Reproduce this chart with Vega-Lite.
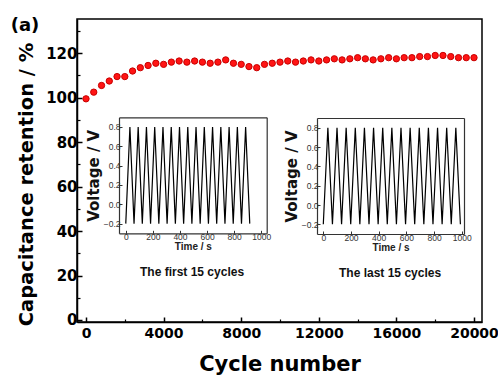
{
  "$schema": "https://vega.github.io/schema/vega-lite/v6.json",
  "width": 405,
  "height": 303,
  "autosize": {"type": "none"},
  "padding": {"left": 77, "top": 19, "right": 16, "bottom": 55},
  "background": "white",
  "config": {"view": {"stroke": "black", "strokeWidth": 1.5}, "font": "DejaVu Sans"},
  "datasets": {
    "retention": [
      {"cycle": 0, "retention": 99.5}, {"cycle": 400, "retention": 102.5}, {"cycle": 800, "retention": 105.5},
      {"cycle": 1200, "retention": 107.5}, {"cycle": 1600, "retention": 109.5}, {"cycle": 2000, "retention": 109.5},
      {"cycle": 2400, "retention": 112}, {"cycle": 2800, "retention": 113.5}, {"cycle": 3200, "retention": 114.5},
      {"cycle": 3600, "retention": 115.5}, {"cycle": 4000, "retention": 115}, {"cycle": 4400, "retention": 116},
      {"cycle": 4800, "retention": 116.5}, {"cycle": 5200, "retention": 116}, {"cycle": 5600, "retention": 116.5},
      {"cycle": 6000, "retention": 116}, {"cycle": 6400, "retention": 115.5}, {"cycle": 6800, "retention": 116},
      {"cycle": 7200, "retention": 117}, {"cycle": 7600, "retention": 115.5}, {"cycle": 8000, "retention": 115},
      {"cycle": 8400, "retention": 114}, {"cycle": 8800, "retention": 113.5}, {"cycle": 9200, "retention": 115},
      {"cycle": 9600, "retention": 115.5}, {"cycle": 10000, "retention": 116}, {"cycle": 10400, "retention": 116.5},
      {"cycle": 10800, "retention": 116}, {"cycle": 11200, "retention": 116.5}, {"cycle": 11600, "retention": 117},
      {"cycle": 12000, "retention": 116.5}, {"cycle": 12400, "retention": 117}, {"cycle": 12800, "retention": 117.5},
      {"cycle": 13200, "retention": 117}, {"cycle": 13600, "retention": 117.5}, {"cycle": 14000, "retention": 118},
      {"cycle": 14400, "retention": 117.5}, {"cycle": 14800, "retention": 117}, {"cycle": 15200, "retention": 117.5},
      {"cycle": 15600, "retention": 118}, {"cycle": 16000, "retention": 117.5}, {"cycle": 16400, "retention": 118},
      {"cycle": 16800, "retention": 118}, {"cycle": 17200, "retention": 118.5}, {"cycle": 17600, "retention": 118.5},
      {"cycle": 18000, "retention": 119}, {"cycle": 18400, "retention": 119}, {"cycle": 18800, "retention": 118.5},
      {"cycle": 19200, "retention": 118}, {"cycle": 19600, "retention": 118}, {"cycle": 20000, "retention": 118}
    ],
    "first": [
      {"time": 0, "voltage": -0.2}, {"time": 30.5, "voltage": 0.8}, {"time": 61, "voltage": -0.2},
      {"time": 91.5, "voltage": 0.8}, {"time": 122, "voltage": -0.2}, {"time": 152.5, "voltage": 0.8},
      {"time": 183, "voltage": -0.2}, {"time": 213.5, "voltage": 0.8}, {"time": 244, "voltage": -0.2},
      {"time": 274.5, "voltage": 0.8}, {"time": 305, "voltage": -0.2}, {"time": 335.5, "voltage": 0.8},
      {"time": 366, "voltage": -0.2}, {"time": 396.5, "voltage": 0.8}, {"time": 427, "voltage": -0.2},
      {"time": 457.5, "voltage": 0.8}, {"time": 488, "voltage": -0.2}, {"time": 518.5, "voltage": 0.8},
      {"time": 549, "voltage": -0.2}, {"time": 579.5, "voltage": 0.8}, {"time": 610, "voltage": -0.2},
      {"time": 640.5, "voltage": 0.8}, {"time": 671, "voltage": -0.2}, {"time": 701.5, "voltage": 0.8},
      {"time": 732, "voltage": -0.2}, {"time": 762.5, "voltage": 0.8}, {"time": 793, "voltage": -0.2},
      {"time": 823.5, "voltage": 0.8}, {"time": 854, "voltage": -0.2}, {"time": 884.5, "voltage": 0.8},
      {"time": 915, "voltage": -0.2}
    ],
    "last": [
      {"time": 0, "voltage": -0.2}, {"time": 33, "voltage": 0.8}, {"time": 66, "voltage": -0.2},
      {"time": 99, "voltage": 0.8}, {"time": 132, "voltage": -0.2}, {"time": 165, "voltage": 0.8},
      {"time": 198, "voltage": -0.2}, {"time": 231, "voltage": 0.8}, {"time": 264, "voltage": -0.2},
      {"time": 297, "voltage": 0.8}, {"time": 330, "voltage": -0.2}, {"time": 363, "voltage": 0.8},
      {"time": 396, "voltage": -0.2}, {"time": 429, "voltage": 0.8}, {"time": 462, "voltage": -0.2},
      {"time": 495, "voltage": 0.8}, {"time": 528, "voltage": -0.2}, {"time": 561, "voltage": 0.8},
      {"time": 594, "voltage": -0.2}, {"time": 627, "voltage": 0.8}, {"time": 660, "voltage": -0.2},
      {"time": 693, "voltage": 0.8}, {"time": 726, "voltage": -0.2}, {"time": 759, "voltage": 0.8},
      {"time": 792, "voltage": -0.2}, {"time": 825, "voltage": 0.8}, {"time": 858, "voltage": -0.2},
      {"time": 891, "voltage": 0.8}, {"time": 924, "voltage": -0.2}, {"time": 957, "voltage": 0.8},
      {"time": 990, "voltage": -0.2}
    ]
  },
  "layer": [
    {
      "layer": [
        {
          "data": {"name": "retention"},
          "mark": {"type": "point", "filled": true, "shape": "circle", "size": 40, "fill": "#ff1414", "stroke": "#c80000", "strokeWidth": 1, "opacity": 1},
          "encoding": {
            "x": {"field": "cycle", "type": "quantitative",
              "scale": {"domain": [-464, 20412], "nice": false, "zero": false},
              "axis": {"orient": "bottom", "values": [0, 4000, 8000, 12000, 16000, 20000], "format": "d", "grid": false,
                "tickSize": -5, "tickWidth": 1.5, "tickColor": "black", "domainColor": "black", "domainWidth": 1.5,
                "labelFont": "DejaVu Sans", "labelFontWeight": "bold", "labelFontSize": 14, "labelColor": "black",
                "labelPadding": 9, "labelFlush": false, "labelOverlap": false,
                "title": "Cycle number", "titleFont": "DejaVu Sans", "titleFontSize": 21, "titleFontWeight": "bold",
                "titleColor": "black", "titlePadding": 13}},
            "y": {"field": "retention", "type": "quantitative",
              "scale": {"domain": [-0.9, 135.4], "nice": false, "zero": false},
              "axis": {"orient": "left", "values": [0, 20, 40, 60, 80, 100, 120], "grid": false,
                "tickSize": -5, "tickWidth": 1.5, "tickColor": "black", "domainColor": "black", "domainWidth": 1.5,
                "labelFont": "DejaVu Sans", "labelFontWeight": "bold", "labelFontSize": 15, "labelColor": "black",
                "labelPadding": 5, "labelFlush": false, "labelOverlap": false,
                "title": "Capacitance retention / %", "titleFont": "DejaVu Sans", "titleFontSize": 19.5, "titleFontWeight": "bold",
                "titleColor": "black", "titlePadding": 9, "titleY": 165}}
          }
        },
        {
          "data": {"name": "retention"},
          "mark": {"type": "point", "opacity": 0},
          "encoding": {
            "x": {"field": "cycle", "type": "quantitative",
              "scale": {"domain": [-464, 20412], "nice": false, "zero": false},
              "axis": {"orient": "bottom", "values": [2000, 6000, 10000, 14000, 18000], "grid": false, "labels": false, "domain": false,
                "tickSize": -3, "tickWidth": 1.2, "tickColor": "black", "title": null}},
            "y": {"field": "retention", "type": "quantitative",
              "scale": {"domain": [-0.9, 135.4], "nice": false, "zero": false},
              "axis": {"orient": "left", "values": [10, 30, 50, 70, 90, 110, 130], "grid": false, "labels": false, "domain": false,
                "tickSize": -3, "tickWidth": 1.2, "tickColor": "black", "title": null}}
          }
        },
        {
          "data": {"values": [{"label": "(a)"}]},
          "mark": {"type": "text", "font": "DejaVu Sans", "fontWeight": "bold", "fontSize": 18, "color": "black", "align": "center", "baseline": "middle"},
          "encoding": {
            "text": {"field": "label"},
            "x": {"datum": -3144, "type": "quantitative", "scale": {"domain": [-464, 20412], "nice": false, "zero": false}, "axis": null},
            "y": {"datum": 132.2, "type": "quantitative", "scale": {"domain": [-0.9, 135.4], "nice": false, "zero": false}, "axis": null}
          }
        }
      ],
      "resolve": {"axis": {"x": "independent", "y": "independent"}}
    },
    {
      "layer": [
        {
          "data": {"name": "first"},
          "mark": {"type": "line", "color": "black", "strokeWidth": 1.2},
          "encoding": {
            "x": {"field": "time", "type": "quantitative",
              "scale": {"domain": [-50, 1040], "range": [42, 189.7], "nice": false, "zero": false},
              "axis": {"orient": "bottom", "offset": -88.7, "values": [0, 200, 400, 600, 800, 1000], "format": "d", "grid": false,
                "tickSize": -3, "tickColor": "#333", "domainColor": "#333", "domainWidth": 1.2,
                "labelFont": "Liberation Sans", "labelFontSize": 8.5, "labelColor": "#333", "labelPadding": 2,
                "labelFlush": false, "labelOverlap": false,
                "title": "Time / s", "titleFont": "Liberation Sans", "titleFontSize": 10, "titleFontWeight": "bold",
                "titleColor": "#222", "titlePadding": 1}},
            "y": {"field": "voltage", "type": "quantitative",
              "scale": {"domain": [-0.3, 0.9], "range": [214.3, 98.3], "nice": false, "zero": false},
              "axis": {"orient": "left", "offset": -42, "values": [-0.2, 0, 0.2, 0.4, 0.6, 0.8], "format": ".1f", "grid": false,
                "tickSize": -3, "tickColor": "#333", "domainColor": "#333", "domainWidth": 1.2,
                "labelFont": "Liberation Sans", "labelFontSize": 8.5, "labelColor": "#333", "labelPadding": 2,
                "labelFlush": false, "labelOverlap": false,
                "title": "Voltage / V", "titleFont": "DejaVu Sans", "titleFontSize": 15, "titleFontWeight": "bold",
                "titleColor": "#111", "titlePadding": 2}}
          }
        },
        {
          "data": {"name": "first"},
          "mark": {"type": "line", "strokeOpacity": 0},
          "encoding": {
            "x": {"field": "time", "type": "quantitative",
              "scale": {"domain": [-50, 1040], "range": [42, 189.7], "nice": false, "zero": false},
              "axis": {"orient": "top", "offset": -98.3, "ticks": false, "labels": false, "grid": false, "title": null,
                "domainColor": "#333", "domainWidth": 1.2}},
            "y": {"field": "voltage", "type": "quantitative",
              "scale": {"domain": [-0.3, 0.9], "range": [214.3, 98.3], "nice": false, "zero": false},
              "axis": {"orient": "right", "offset": -215.3, "ticks": false, "labels": false, "grid": false, "title": null,
                "domainColor": "#333", "domainWidth": 1.2}}
          }
        },
        {
          "data": {"values": [{"label": "The first 15 cycles"}]},
          "mark": {"type": "text", "font": "Liberation Sans", "fontWeight": "bold", "fontSize": 12, "color": "#111", "align": "center", "baseline": "middle"},
          "encoding": {
            "text": {"field": "label"},
            "x": {"datum": 489, "type": "quantitative", "axis": null},
            "y": {"datum": -0.7, "type": "quantitative", "axis": null}
          }
        }
      ],
      "resolve": {"axis": {"x": "independent", "y": "independent"}}
    },
    {
      "layer": [
        {
          "data": {"name": "last"},
          "mark": {"type": "line", "color": "black", "strokeWidth": 1.2},
          "encoding": {
            "x": {"field": "time", "type": "quantitative",
              "scale": {"domain": [-45.5, 1016], "range": [240, 387], "nice": false, "zero": false},
              "axis": {"orient": "bottom", "offset": -88, "values": [0, 200, 400, 600, 800, 1000], "format": "d", "grid": false,
                "tickSize": -3, "tickColor": "#333", "domainColor": "#333", "domainWidth": 1.2,
                "labelFont": "Liberation Sans", "labelFontSize": 8.5, "labelColor": "#333", "labelPadding": 2,
                "labelFlush": false, "labelOverlap": false,
                "title": "Time / s", "titleFont": "Liberation Sans", "titleFontSize": 10, "titleFontWeight": "bold",
                "titleColor": "#222", "titlePadding": 1}},
            "y": {"field": "voltage", "type": "quantitative",
              "scale": {"domain": [-0.3, 0.9], "range": [215, 99], "nice": false, "zero": false},
              "axis": {"orient": "left", "offset": -240, "values": [-0.2, 0, 0.2, 0.4, 0.6, 0.8], "format": ".1f", "grid": false,
                "tickSize": -3, "tickColor": "#333", "domainColor": "#333", "domainWidth": 1.2,
                "labelFont": "Liberation Sans", "labelFontSize": 8.5, "labelColor": "#333", "labelPadding": 2,
                "labelFlush": false, "labelOverlap": false,
                "title": "Voltage / V", "titleFont": "DejaVu Sans", "titleFontSize": 15, "titleFontWeight": "bold",
                "titleColor": "#111", "titlePadding": 2}}
          }
        },
        {
          "data": {"name": "last"},
          "mark": {"type": "line", "strokeOpacity": 0},
          "encoding": {
            "x": {"field": "time", "type": "quantitative",
              "scale": {"domain": [-45.5, 1016], "range": [240, 387], "nice": false, "zero": false},
              "axis": {"orient": "top", "offset": -99, "ticks": false, "labels": false, "grid": false, "title": null,
                "domainColor": "#333", "domainWidth": 1.2}},
            "y": {"field": "voltage", "type": "quantitative",
              "scale": {"domain": [-0.3, 0.9], "range": [215, 99], "nice": false, "zero": false},
              "axis": {"orient": "right", "offset": -18, "ticks": false, "labels": false, "grid": false, "title": null,
                "domainColor": "#333", "domainWidth": 1.2}}
          }
        },
        {
          "data": {"values": [{"label": "The last 15 cycles"}]},
          "mark": {"type": "text", "font": "Liberation Sans", "fontWeight": "bold", "fontSize": 12, "color": "#111", "align": "center", "baseline": "middle"},
          "encoding": {
            "text": {"field": "label"},
            "x": {"datum": 482, "type": "quantitative", "axis": null},
            "y": {"datum": -0.7, "type": "quantitative", "axis": null}
          }
        }
      ],
      "resolve": {"axis": {"x": "independent", "y": "independent"}}
    }
  ],
  "resolve": {"scale": {"x": "independent", "y": "independent"}, "axis": {"x": "independent", "y": "independent"}}
}
